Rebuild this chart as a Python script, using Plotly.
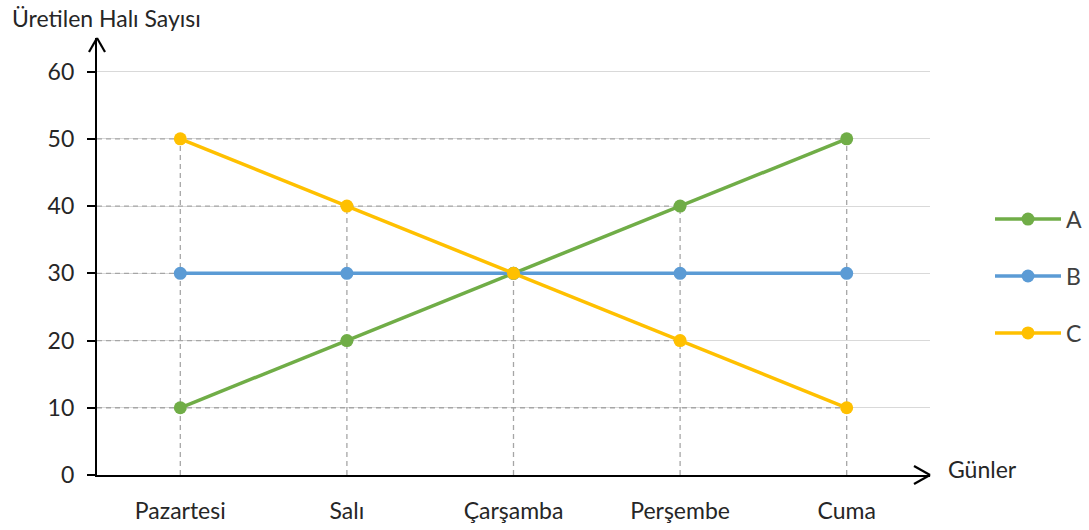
import plotly.graph_objects as go

days = ["Pazartesi", "Salı", "Çarşamba", "Perşembe", "Cuma"]
series_a = [10, 20, 30, 40, 50]
series_b = [30, 30, 30, 30, 30]
series_c = [50, 40, 30, 20, 10]
y_ticks = [0, 10, 20, 30, 40, 50, 60]

names = ["A", "B", "C"]
colors = ["#70AD47", "#5B9BD5", "#FFC000"]
all_series = [series_a, series_b, series_c]

FONT = "Lato"
TXT = "#262626"
FS = 23

W, H = 1089, 530
L, R, T, B = 97, 159, 38, 55
PW = W - L - R
PH = H - T - B

fig = go.Figure()
for i, (nm, col, vals) in enumerate(zip(names, colors, all_series)):
    fig.add_trace(go.Scatter(
        x=days, y=vals, name=nm, mode="lines+markers",
        line=dict(color=col, width=3.5),
        marker=dict(color=col, size=13),
        legendgroup=nm,
    ))

shapes = []
dash_style = dict(color="#A6A6A6", width=1.3, dash="5px,4px")
# vertical drop lines: from 0 up to the highest point in each category
for i, d in enumerate(days):
    top = max(s[i] for s in all_series)
    shapes.append(dict(type="line", xref="x", yref="y", x0=i, x1=i, y0=0, y1=top,
                       line=dash_style, layer="between"))
# horizontal drop lines: from the y axis to the farthest point with that value
values = sorted(set(v for s in all_series for v in s))
for v in values:
    far = max(i for s in all_series for i, val in enumerate(s) if val == v)
    shapes.append(dict(type="line", xref="x", yref="y", x0=-0.5, x1=far, y0=v, y1=v,
                       line=dash_style, layer="between"))

# axis arrowheads (open chevrons)
arrow = dict(color="#000000", width=2.2)
for dy in (9, -9):
    shapes.append(dict(type="line", xref="paper", yref="paper",
                       xsizemode="pixel", ysizemode="pixel", xanchor=1, yanchor=0,
                       x0=0, y0=0, x1=-16, y1=dy, line=arrow, layer="above"))
for dx in (8, -8):
    shapes.append(dict(type="line", xref="paper", yref="paper",
                       xsizemode="pixel", ysizemode="pixel", xanchor=0, yanchor=1,
                       x0=0, y0=0, x1=dx, y1=-14, line=arrow, layer="above"))

fig.update_layout(
    width=W, height=H,
    margin=dict(l=L, r=R, t=T, b=B, autoexpand=False),
    paper_bgcolor="white", plot_bgcolor="white",
    font=dict(family=FONT, size=FS, color=TXT),
    shapes=shapes,
    showlegend=True,
    legend=dict(x=1 + 60 / PW, xanchor="left", xref="paper", y=0.455, yanchor="middle",
                font=dict(size=FS, color="#404040"), itemwidth=66,
                traceorder="grouped", tracegroupgap=24,
                bgcolor="rgba(0,0,0,0)"),
    xaxis=dict(range=[-0.5, 4.5], showgrid=False, zeroline=False,
               showline=True, linecolor="#000000", linewidth=2.2,
               ticks="", tickfont=dict(size=FS, color=TXT),
               ticklabelstandoff=14, fixedrange=True),
    yaxis=dict(range=[0, 65], tickvals=y_ticks, showgrid=True,
               gridcolor="#D9D9D9", gridwidth=1, zeroline=False,
               showline=True, linecolor="#000000", linewidth=2.2,
               ticks="outside", ticklen=8, tickwidth=2, tickcolor="#000000",
               ticklabelstandoff=8,
               tickfont=dict(size=FS, color=TXT), fixedrange=True),
    annotations=[
        dict(text="Üretilen Halı Sayısı", xref="paper", yref="paper",
             x=-L / PW, y=1 + 20 / PH, xanchor="left", yanchor="middle",
             showarrow=False, font=dict(size=FS, color=TXT), xshift=10),
        dict(text="Günler", xref="paper", yref="paper",
             x=1, y=6 / PH, xanchor="left", yanchor="middle",
             showarrow=False, font=dict(size=FS, color=TXT), xshift=16),
    ],
)

fig.write_html("out.html",
               config={"displayModeBar": False},
               post_script="document.body.style.margin='0';document.body.style.overflow='hidden';")
